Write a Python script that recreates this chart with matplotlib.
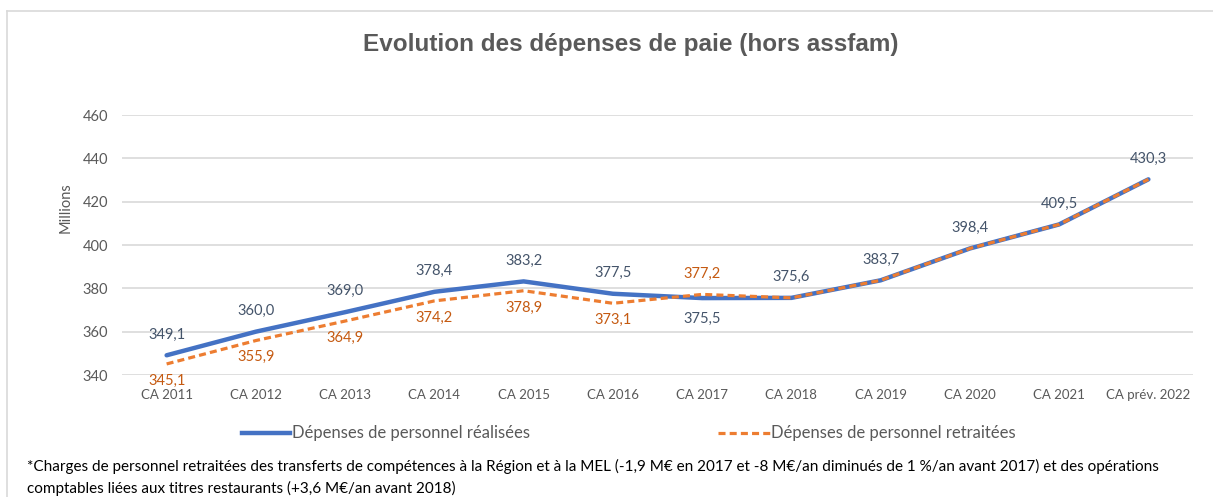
import matplotlib
matplotlib.use("Agg")
import matplotlib.pyplot as plt
from matplotlib.lines import Line2D

categories = ["CA 2011", "CA 2012", "CA 2013", "CA 2014", "CA 2015", "CA 2016",
              "CA 2017", "CA 2018", "CA 2019", "CA 2020", "CA 2021", "CA prév. 2022"]
realisees = [349.1, 360.0, 369.0, 378.4, 383.2, 377.5, 375.5, 375.6, 383.7, 398.4, 409.5, 430.3]
retraitees = [345.1, 355.9, 364.9, 374.2, 378.9, 373.1, 377.2, 375.6, 383.7, 398.4, 409.5, 430.3]
yticks = [340, 360, 380, 400, 420, 440, 460]

W, H = 1213, 497
fig = plt.figure(figsize=(W / 100, H / 100), dpi=100)
fig.patch.set_facecolor("white")

BODY = ["Lato", "DejaVu Sans"]
GRAY = "#595959"
BLUE = "#4472C4"
ORANGE = "#ED7D31"
BLUE_LBL = "#44546A"
ORANGE_LBL = "#C55A11"

# frame
fig.add_artist(Line2D([7 / W, 7 / W], [0, 1 - 11 / H], color="#D9D9D9", lw=1.2, transform=fig.transFigure))
fig.add_artist(Line2D([7 / W, 1], [1 - 11 / H, 1 - 11 / H], color="#D9D9D9", lw=1.2, transform=fig.transFigure))

ax = fig.add_axes([122 / W, 1 - 375 / H, (1193 - 122) / W, (375 - 115) / H])
x = list(range(len(categories)))
ax.plot(x, realisees, color=BLUE, lw=3.2, solid_capstyle="round", zorder=3)
ax.plot(x, retraitees, color=ORANGE, lw=2.3, ls=(0, (2.2, 1.3)), zorder=4)

ax.set_xlim(-0.5, len(categories) - 0.5)
ax.set_ylim(340, 460)
ax.set_yticks(yticks)
ax.set_yticklabels([str(v) for v in yticks], fontfamily=BODY, fontsize=10.5, color=GRAY)
ax.set_xticks(x)
ax.set_xticklabels(categories, fontfamily=BODY, fontsize=9.5, color=GRAY)
ax.tick_params(axis="y", length=0, pad=10)
ax.tick_params(axis="x", length=0, pad=10)
for s in ax.spines.values():
    s.set_visible(False)
ax.grid(axis="y", color="#D9D9D9", lw=1.2)
ax.set_axisbelow(True)

fig.text(66 / W, 1 - 208 / H, "Millions", rotation=90, ha="center", va="center",
         fontfamily=BODY, fontsize=10.5, color=GRAY)

def fmt(v):
    return f"{v:.1f}".replace(".", ",")

for i in x:
    b, o = realisees[i], retraitees[i]
    if abs(b - o) < 0.05:
        ax.annotate(fmt(b), (i, b), xytext=(0, 10), textcoords="offset points",
                    ha="center", va="bottom", fontfamily=BODY, fontsize=10.5, color=BLUE_LBL)
        continue
    b_up = b > o
    ax.annotate(fmt(b), (i, b), xytext=(0, 10 if b_up else -10), textcoords="offset points",
                ha="center", va="bottom" if b_up else "top", fontfamily=BODY, fontsize=10.5, color=BLUE_LBL)
    ax.annotate(fmt(o), (i, o), xytext=(0, -7 if b_up else 10), textcoords="offset points",
                ha="center", va="top" if b_up else "bottom", fontfamily=BODY, fontsize=10.5, color=ORANGE_LBL)

fig.text(631 / W, 1 - 45 / H, "Evolution des dépenses de paie (hors assfam)",
         ha="center", va="center", fontfamily="Liberation Sans", fontsize=17.5, fontweight="bold", color=GRAY)

# legend
ly = 1 - 433 / H
fig.add_artist(Line2D([242 / W, 290 / W], [ly, ly], color=BLUE, lw=3.2, transform=fig.transFigure))
fig.text(292 / W, ly, "Dépenses de personnel réalisées", ha="left", va="center",
         fontfamily=BODY, fontsize=12, color=GRAY)
fig.add_artist(Line2D([718 / W, 770 / W], [ly, ly], color=ORANGE, lw=2.3, ls=(0, (2.2, 1.3)),
                      transform=fig.transFigure))
fig.text(771 / W, ly, "Dépenses de personnel retraitées", ha="left", va="center",
         fontfamily=BODY, fontsize=12, color=GRAY)

# footnote
fig.text(27 / W, 1 - 466 / H,
         "*Charges de personnel retraitées des transferts de compétences à la Région et à la MEL "
         "(-1,9 M€ en 2017 et -8 M€/an diminués de 1 %/an avant 2017) et des opérations",
         ha="left", va="center", fontfamily=BODY, fontsize=11.0, color="black")
fig.text(27 / W, 1 - 488 / H,
         "comptables liées aux titres restaurants (+3,6 M€/an avant 2018)",
         ha="left", va="center", fontfamily=BODY, fontsize=11.0, color="black")

fig.savefig("out.png", dpi=100, facecolor="white")
